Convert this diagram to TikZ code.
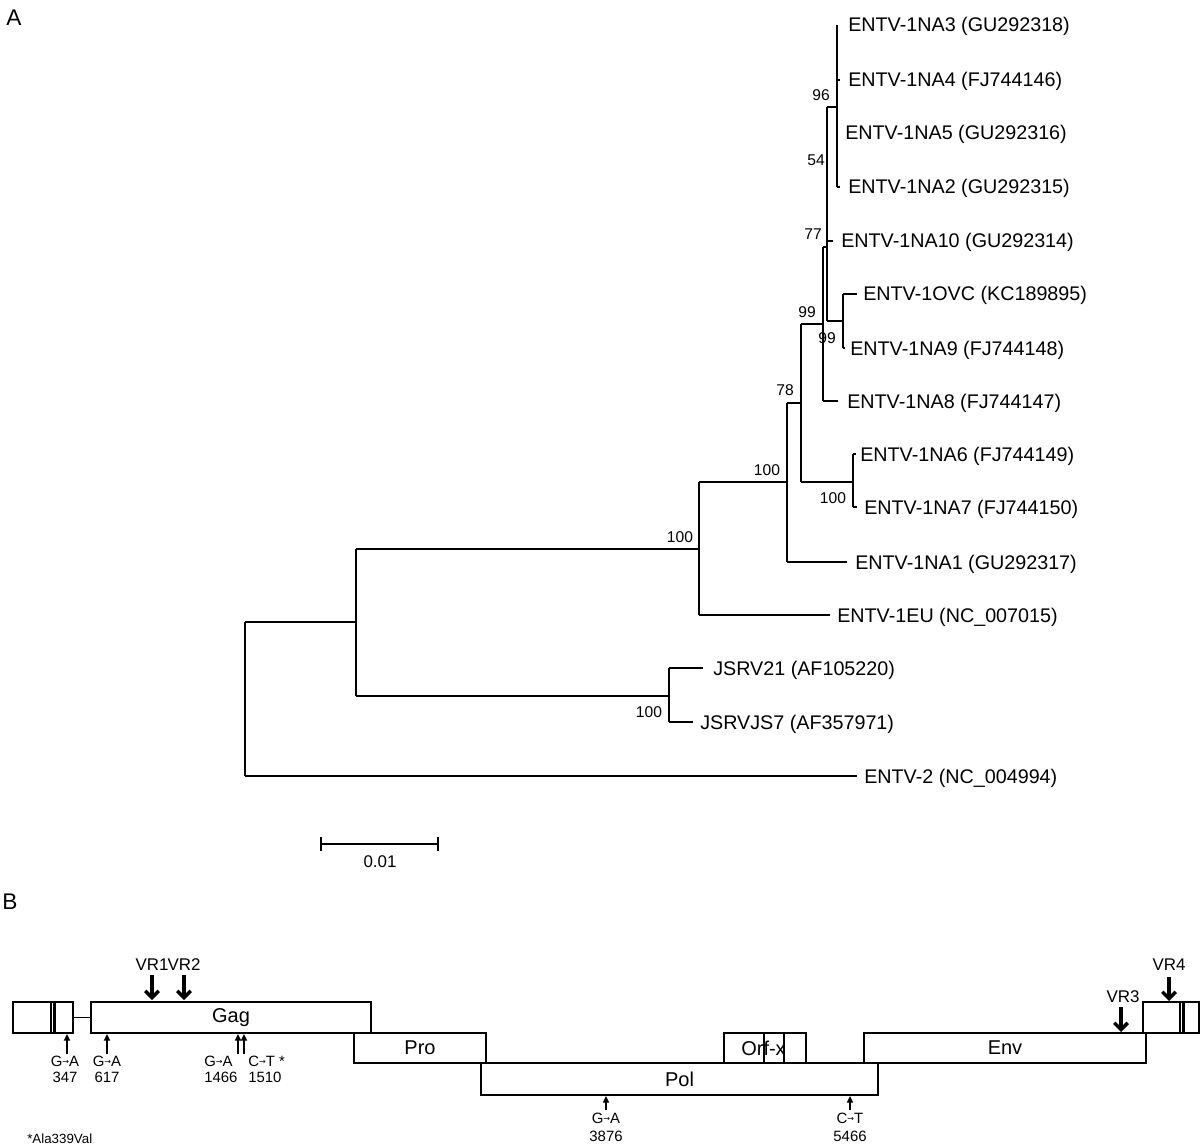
\documentclass[tikz,border=0pt]{standalone}
\usepackage{fontspec}
\setmainfont{Liberation Sans}
\newfontfamily\djv{DejaVu Sans}
\usetikzlibrary{arrows.meta}
\newcommand\garr{\raisebox{0.3ex}{\djv\fontsize{6pt}{6pt}\selectfont →}}
\begin{document}
\begin{tikzpicture}[x=0.75pt,y=-0.75pt,
  br/.style={line width=1.4pt},
  leaf/.style={anchor=base west,inner sep=0pt,font=\fontsize{14.8}{17}\selectfont},
  boot/.style={inner sep=0pt,font=\fontsize{11.7}{13}\selectfont},
  box/.style={draw,line width=1.3pt,inner sep=0pt,minimum height=23.25pt,font=\fontsize{15}{17}\selectfont},
  mut/.style={anchor=north,inner sep=0pt,align=center,font=\fontsize{11.2}{12}\selectfont},
  sarr/.style={line width=1.3pt,-{Triangle[length=5pt,width=4.5pt]}},
  varr/.style={line width=2.6pt,-{Straight Barb[length=5pt,width=10pt]}},
  vlab/.style={inner sep=0pt,font=\fontsize{12.7}{14}\selectfont},
  ltrl/.style={line width=1.6pt},
  panel/.style={inner sep=0pt,font=\fontsize{17}{18}\selectfont}]
\useasboundingbox (0,0) rectangle (1200,1148);

% panel labels
\node[panel] (pA) at (14,18) {A};
\node[panel] (pB) at (10,902) {B};

% ---------- tree coordinates ----------
\coordinate (rt) at (245,622);  \coordinate (rb) at (245,776);
\coordinate (n1) at (356,622);  \coordinate (n1t) at (356,549); \coordinate (n1b) at (356,696);
\coordinate (nA) at (699,549);  \coordinate (nAt) at (699,482); \coordinate (nAb) at (699,615);
\coordinate (nB) at (787,482);  \coordinate (nBt) at (787,403); \coordinate (nBb) at (787,562);
\coordinate (nC) at (801,403);  \coordinate (nCt) at (801,324); \coordinate (nCb) at (801,482);
\coordinate (nE) at (823,324);  \coordinate (nEt) at (823,247); \coordinate (nEb) at (823,401);
\coordinate (nF) at (827,247);  \coordinate (nFt) at (827,107); \coordinate (nFb) at (827,321);
\coordinate (nF10) at (827,241);
\coordinate (nG) at (837,107);  \coordinate (nGt) at (837,25);  \coordinate (nGb) at (837,187);
\coordinate (nG4) at (837,80);
\coordinate (nH) at (843,321);  \coordinate (nHt) at (843,294); \coordinate (nHb) at (843,348);
\coordinate (nD) at (853,482);  \coordinate (nDt) at (853,454); \coordinate (nDb) at (853,507);
\coordinate (nJ) at (669,696);  \coordinate (nJt) at (669,668); \coordinate (nJb) at (669,722);
% tips
\coordinate (l4) at (840,80);   \coordinate (l2) at (840,187);
\coordinate (l10) at (833,241); \coordinate (lovc) at (857,294);
\coordinate (l9) at (845,348);  \coordinate (l8) at (838,401);
\coordinate (l6) at (856,454);  \coordinate (l7) at (857,507);
\coordinate (l1) at (847,562);  \coordinate (leu) at (830,615);
\coordinate (lj21) at (703,668);\coordinate (lj7) at (693,722);
\coordinate (l2e) at (857,776);

% ---------- tree branches ----------
\draw[br] (rt)--(rb) (rt)--(n1) (rb)--(l2e);
\draw[br] (n1t)--(n1b) (n1t)--(nA) (n1b)--(nJ);
\draw[br] (nAt)--(nAb) (nAt)--(nB) (nAb)--(leu);
\draw[br] (nBt)--(nBb) (nBt)--(nC) (nBb)--(l1);
\draw[br] (nCt)--(nCb) (nCt)--(nE) (nCb)--(nD);
\draw[br] (nEt)--(nEb) (nEt)--(nF) (nEb)--(l8);
\draw[br] (nFt)--(nFb) (nFt)--(nG) (nFb)--(nH) (nF10)--(l10);
\draw[br] (nGt)--(nGb) (nG4)--(l4) (nGb)--(l2);
\draw[br] (nHt)--(nHb) (nHt)--(lovc) (nHb)--(l9);
\draw[br] (nDt)--(nDb) (nDt)--(l6) (nDb)--(l7);
\draw[br] (nJt)--(nJb) (nJt)--(lj21) (nJb)--(lj7);

% ---------- leaf labels ----------
\node[leaf] (t3)  at (848,32)  {ENTV-1NA3 (GU292318)};
\node[leaf] (t4)  at (848,87)  {ENTV-1NA4 (FJ744146)};
\node[leaf] (t5)  at (845,140) {ENTV-1NA5 (GU292316)};
\node[leaf] (t2)  at (848,194) {ENTV-1NA2 (GU292315)};
\node[leaf] (t10) at (841,248) {ENTV-1NA10 (GU292314)};
\node[leaf] (tovc) at (863,301) {ENTV-1OVC (KC189895)};
\node[leaf] (t9)  at (850,355) {ENTV-1NA9 (FJ744148)};
\node[leaf] (t8)  at (847,408) {ENTV-1NA8 (FJ744147)};
\node[leaf] (t6)  at (860,461) {ENTV-1NA6 (FJ744149)};
\node[leaf] (t7)  at (864,514) {ENTV-1NA7 (FJ744150)};
\node[leaf] (t1)  at (855,569) {ENTV-1NA1 (GU292317)};
\node[leaf] (teu) at (837,622) {ENTV-1EU (NC\_007015)};
\node[leaf] (tj21) at (713,675) {JSRV21 (AF105220)};
\node[leaf] (tj7) at (700,729) {JSRVJS7 (AF357971)};
\node[leaf] (t2e) at (864,783) {ENTV-2 (NC\_004994)};

% ---------- bootstrap values ----------
\node[boot] (b96) at (821,95) {96};
\node[boot] (b54) at (816,160) {54};
\node[boot] (b77) at (813,234) {77};
\node[boot] (b99a) at (807,312) {99};
\node[boot] (b99b) at (827,338) {99};
\node[boot] (b78) at (785,390) {78};
\node[boot] (b100a) at (767,470) {100};
\node[boot] (b100b) at (833,498) {100};
\node[boot] (b100c) at (680,537) {100};
\node[boot] (b100d) at (649,712) {100};

% ---------- scale bar ----------
\coordinate (s1) at (321,844); \coordinate (s2) at (438,844);
\draw[line width=1.3pt] (s1)--(s2);
\draw[line width=1.3pt] (321,837)--(321,851) (438,837)--(438,851);
\node[inner sep=0pt,font=\fontsize{12.7}{14}\selectfont] (sl) at (380,862) {0.01};

% ---------- panel B: genome map ----------
\node[box,minimum width=45pt] (ltrL) at (43,1017.5) {};
\draw[ltrl] (51,1002)--(51,1033) (54.5,1002)--(54.5,1033);
\node[box,minimum width=210pt] (gag) at (231,1017.5) {Gag};
\draw[line width=1.3pt] (ltrL.east)--(gag.west);
\node[box,minimum width=99pt,minimum height=22.5pt] (pro) at (420,1048) {Pro};
\node[box,minimum width=297.75pt,minimum height=24pt] (pol) at (679.5,1079) {Pol};
\node[box,minimum width=61.5pt,minimum height=22.5pt] (orf) at (765,1048) {};
\draw[line width=1.3pt] (764,1033)--(764,1063) (784,1033)--(784,1063);
\node[inner sep=0pt,font=\fontsize{15}{17}\selectfont] (orft) at (763.5,1048) {Orf-x};
\node[box,minimum width=211.5pt,minimum height=22.5pt] (env) at (1005,1048) {Env};
\node[box,minimum width=42pt] (ltrR) at (1171,1017.5) {};
\draw[ltrl] (1180,1002)--(1180,1033) (1183.5,1002)--(1183.5,1033);

% VR arrows
\node[vlab] (vr1) at (152,965) {VR1};
\node[vlab] (vr2) at (184,965) {VR2};
\node[vlab] (vr3) at (1123,997) {VR3};
\node[vlab] (vr4) at (1169,965) {VR4};
\coordinate (v1a) at (152,975); \coordinate (v1b) at (152,1000);
\coordinate (v2a) at (184,975); \coordinate (v2b) at (184,1000);
\coordinate (v3a) at (1121,1007); \coordinate (v3b) at (1121,1032);
\coordinate (v4a) at (1169,977); \coordinate (v4b) at (1169,1001);
\draw[varr] (v1a)--(v1b);
\draw[varr] (v2a)--(v2b);
\draw[varr] (v3a)--(v3b);
\draw[varr] (v4a)--(v4b);

% mutation arrows
\coordinate (m1a) at (67,1054);  \coordinate (m1b) at (67,1034);
\coordinate (m2a) at (107,1054); \coordinate (m2b) at (107,1034);
\coordinate (m3a) at (238,1054); \coordinate (m3b) at (238,1034);
\coordinate (m4a) at (244,1054); \coordinate (m4b) at (244,1034);
\coordinate (m5a) at (606,1110); \coordinate (m5b) at (606,1096);
\coordinate (m6a) at (850,1110); \coordinate (m6b) at (850,1096);
\draw[sarr] (m1a)--(m1b);
\draw[sarr] (m2a)--(m2b);
\draw[sarr] (m3a)--(m3b);
\draw[sarr] (m4a)--(m4b);
\draw[sarr] (m5a)--(m5b);
\draw[sarr] (m6a)--(m6b);

\node[mut] (mt1) at (65,1056) {G\garr A\\347};
\node[mut] (mt2) at (107,1056) {G\garr A\\617};
\node[mut,anchor=north west,align=left] (mt3) at (204,1056) {G\garr A\\1466};
\node[mut,anchor=north west,align=left] (mt4) at (248,1056) {C\garr T *\\1510};
\node[mut,font=\fontsize{11.2}{13.5}\selectfont] (mt5) at (606,1113) {G\garr A\\3876};
\node[mut,font=\fontsize{11.2}{13.5}\selectfont] (mt6) at (850,1113) {C\garr T\\5466};

\node[anchor=west,inner sep=0pt,font=\fontsize{10}{12}\selectfont] (ala) at (27,1139) {*Ala339Val};
\end{tikzpicture}
\end{document}
